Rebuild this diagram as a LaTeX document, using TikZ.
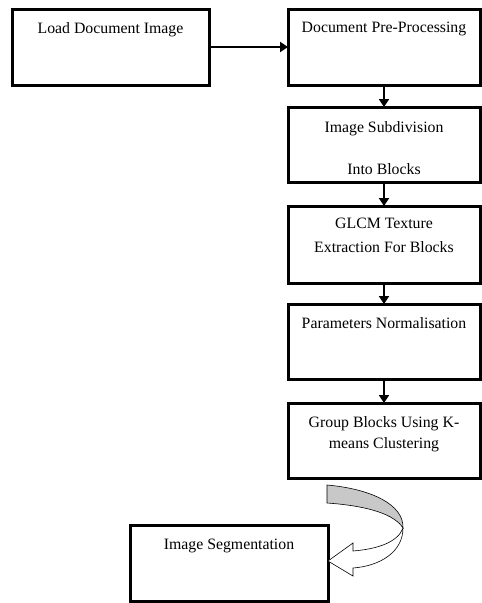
\documentclass[tikz,border=0pt]{standalone}
\usepackage{fontspec}
\setmainfont{Liberation Serif}
\usepackage{tikz}
\usetikzlibrary{shapes,arrows,arrows.meta,backgrounds}
\definecolor{bendgray}{RGB}{200,200,200}

\begin{document}
\begin{tikzpicture}[x=1pt,y=-1pt,
	box/.style={draw, rectangle, line width=3pt, minimum width=192pt, minimum height=76pt, inner sep=0pt, outer sep=0pt},
	title/.style={anchor=north, align=center, inner sep=0pt, font=\fontsize{15.8}{21}\selectfont},
	flow/.style={line width=2.8pt, -{Triangle[length=8pt,width=10pt]}}]
	%Define the coordinates (one unit is one pixel, y grows downwards)
	%Left column at \xl, right column at \xr
	\pgfmathsetmacro{\xl}{110.5}
	\pgfmathsetmacro{\xr}{384}
	\pgfmathsetmacro{\xs}{229}
	\pgfmathsetmacro{\off}{13}

	\useasboundingbox (0,0) rectangle (482,603);

	%The boxes
	\draw node[box, minimum width=197pt] (load) at (\xl,47) {};
	\draw node[box] (pre) at (\xr,47) {};
	\draw node[box, minimum height=75pt] (sub) at (\xr,144.5) {};
	\draw node[box, minimum height=77pt] (glcm) at (\xr,244.5) {};
	\draw node[box, minimum height=75pt] (norm) at (\xr,341.5) {};
	\draw node[box, minimum height=75pt] (group) at (\xr,440.5) {};
	\draw node[box, minimum width=198pt] (seg) at (\xs,563) {};

	%Texts at the top of the boxes
	\path (load.north)+(0,\off) node[title] (loadtext) {Load Document Image};
	\path (pre.north)+(0,\off) node[title] (pretext) {Document Pre-Processing};
	\path (sub.north)+(0,\off+1) node[title] (subtext) {Image Subdivision\\[21pt]Into Blocks};
	\path (glcm.north)+(0,\off-1) node[title] (glcmtext) {GLCM Texture\\[3pt]Extraction For Blocks};
	\path (norm.north)+(0,\off) node[title] (normtext) {Parameters Normalisation};
	\path (group.north)+(0,\off) node[title] (grouptext) {Group Blocks Using K-\\means Clustering};
	\path (seg.north)+(0,\off+1) node[title] (segtext) {Image Segmentation};

	%Arrows between the boxes
	\draw[flow] (load) -- (pre);
	\draw[flow] (pre) -- (sub);
	\draw[flow] (sub) -- (glcm);
	\draw[flow] (glcm) -- (norm);
	\draw[flow] (norm) -- (group);

	%Bent arrow down to the segmentation
	%Upper (gray) face
	\filldraw[fill=bendgray, line width=0.6pt] (327,485) .. controls (372,489) and (404,505) .. (403,528) .. controls (395,515) and (370,506) .. (327,503) -- cycle;
	%Lower face with the head
	\draw[fill=white, line width=0.6pt] (403,528) .. controls (403,552) and (380,566) .. (353,568) -- (353,576) -- (328,561) -- (353,543) -- (353,551) .. controls (378,549) and (398,542) .. (403,528);

\end{tikzpicture}
\end{document}
